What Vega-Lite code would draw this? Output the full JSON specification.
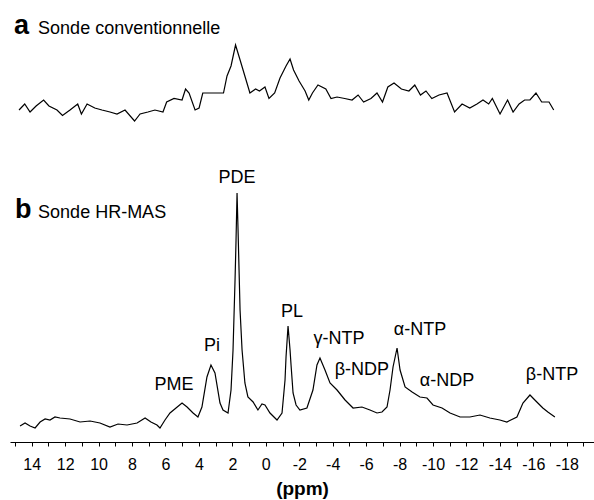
{
  "$schema": "https://vega.github.io/schema/vega-lite/v6.json",
  "width": 584,
  "height": 442,
  "autosize": {"type": "none"},
  "padding": {"left": 10, "top": 0, "right": 0, "bottom": 58},
  "config": {"view": {"stroke": null}, "font": "Liberation Sans"},
  "datasets": {
    "spectra": [
      {"spectrum":"a","ppm":14.76,"intensity":33.2},{"spectrum":"a","ppm":14.42,"intensity":33.8},{"spectrum":"a","ppm":14.10,"intensity":33.0},{"spectrum":"a","ppm":13.74,"intensity":33.6},{"spectrum":"a","ppm":13.29,"intensity":34.2},{"spectrum":"a","ppm":12.97,"intensity":33.6},{"spectrum":"a","ppm":12.49,"intensity":33.2},{"spectrum":"a","ppm":12.16,"intensity":32.65},{"spectrum":"a","ppm":11.71,"intensity":33.2},{"spectrum":"a","ppm":11.25,"intensity":33.8},{"spectrum":"a","ppm":11.03,"intensity":32.8},{"spectrum":"a","ppm":10.69,"intensity":33.8},{"spectrum":"a","ppm":10.23,"intensity":33.4},{"spectrum":"a","ppm":9.80,"intensity":33.2},{"spectrum":"a","ppm":9.32,"intensity":33.0},{"spectrum":"a","ppm":8.90,"intensity":32.8},{"spectrum":"a","ppm":8.42,"intensity":33.2},{"spectrum":"a","ppm":7.85,"intensity":32.1},{"spectrum":"a","ppm":7.52,"intensity":32.8},{"spectrum":"a","ppm":7.05,"intensity":33.0},{"spectrum":"a","ppm":6.63,"intensity":33.2},{"spectrum":"a","ppm":6.15,"intensity":33.0},{"spectrum":"a","ppm":5.93,"intensity":34.0},{"spectrum":"a","ppm":5.49,"intensity":34.35},{"spectrum":"a","ppm":5.01,"intensity":34.2},{"spectrum":"a","ppm":4.80,"intensity":35.3},{"spectrum":"a","ppm":4.59,"intensity":34.9},{"spectrum":"a","ppm":4.23,"intensity":33.2},{"spectrum":"a","ppm":3.99,"intensity":33.4},{"spectrum":"a","ppm":3.77,"intensity":34.9},{"spectrum":"a","ppm":3.34,"intensity":34.9},{"spectrum":"a","ppm":2.86,"intensity":34.9},{"spectrum":"a","ppm":2.53,"intensity":34.9},{"spectrum":"a","ppm":2.32,"intensity":36.6},{"spectrum":"a","ppm":2.08,"intensity":37.6},{"spectrum":"a","ppm":1.81,"intensity":39.7},{"spectrum":"a","ppm":1.52,"intensity":38.1},{"spectrum":"a","ppm":1.19,"intensity":36.25},{"spectrum":"a","ppm":0.95,"intensity":34.9},{"spectrum":"a","ppm":0.61,"intensity":35.3},{"spectrum":"a","ppm":0.38,"intensity":35.1},{"spectrum":"a","ppm":0.05,"intensity":35.5},{"spectrum":"a","ppm":-0.19,"intensity":34.35},{"spectrum":"a","ppm":-0.53,"intensity":34.9},{"spectrum":"a","ppm":-0.85,"intensity":36.4},{"spectrum":"a","ppm":-1.21,"intensity":37.6},{"spectrum":"a","ppm":-1.45,"intensity":38.3},{"spectrum":"a","ppm":-1.66,"intensity":37.2},{"spectrum":"a","ppm":-1.99,"intensity":36.1},{"spectrum":"a","ppm":-2.35,"intensity":35.1},{"spectrum":"a","ppm":-2.57,"intensity":34.2},{"spectrum":"a","ppm":-2.79,"intensity":34.9},{"spectrum":"a","ppm":-3.12,"intensity":35.7},{"spectrum":"a","ppm":-3.59,"intensity":35.3},{"spectrum":"a","ppm":-3.90,"intensity":34.35},{"spectrum":"a","ppm":-4.26,"intensity":34.5},{"spectrum":"a","ppm":-4.72,"intensity":34.35},{"spectrum":"a","ppm":-5.16,"intensity":34.2},{"spectrum":"a","ppm":-5.52,"intensity":34.7},{"spectrum":"a","ppm":-5.85,"intensity":34.0},{"spectrum":"a","ppm":-6.29,"intensity":34.35},{"spectrum":"a","ppm":-6.65,"intensity":34.9},{"spectrum":"a","ppm":-6.98,"intensity":34.0},{"spectrum":"a","ppm":-7.30,"intensity":35.5},{"spectrum":"a","ppm":-7.67,"intensity":35.9},{"spectrum":"a","ppm":-8.11,"intensity":35.3},{"spectrum":"a","ppm":-8.56,"intensity":35.1},{"spectrum":"a","ppm":-8.91,"intensity":35.7},{"spectrum":"a","ppm":-9.25,"intensity":34.7},{"spectrum":"a","ppm":-9.58,"intensity":35.1},{"spectrum":"a","ppm":-9.93,"intensity":34.35},{"spectrum":"a","ppm":-10.36,"intensity":34.7},{"spectrum":"a","ppm":-10.84,"intensity":34.9},{"spectrum":"a","ppm":-11.29,"intensity":33.0},{"spectrum":"a","ppm":-11.74,"intensity":33.8},{"spectrum":"a","ppm":-12.20,"intensity":33.4},{"spectrum":"a","ppm":-12.63,"intensity":33.8},{"spectrum":"a","ppm":-12.99,"intensity":34.2},{"spectrum":"a","ppm":-13.33,"intensity":33.8},{"spectrum":"a","ppm":-13.55,"intensity":34.35},{"spectrum":"a","ppm":-14.01,"intensity":32.8},{"spectrum":"a","ppm":-14.46,"intensity":34.2},{"spectrum":"a","ppm":-14.79,"intensity":33.0},{"spectrum":"a","ppm":-15.15,"intensity":33.8},{"spectrum":"a","ppm":-15.48,"intensity":34.2},{"spectrum":"a","ppm":-15.80,"intensity":34.2},{"spectrum":"a","ppm":-16.16,"intensity":34.9},{"spectrum":"a","ppm":-16.50,"intensity":34.0},{"spectrum":"a","ppm":-16.94,"intensity":34.0},{"spectrum":"a","ppm":-17.22,"intensity":33.2},
      {"spectrum":"b","ppm":14.70,"intensity":1.6},{"spectrum":"b","ppm":14.40,"intensity":1.9},{"spectrum":"b","ppm":14.10,"intensity":1.6},{"spectrum":"b","ppm":13.80,"intensity":1.4},{"spectrum":"b","ppm":13.50,"intensity":2.0},{"spectrum":"b","ppm":13.20,"intensity":2.3},{"spectrum":"b","ppm":12.91,"intensity":2.2},{"spectrum":"b","ppm":12.61,"intensity":2.5},{"spectrum":"b","ppm":12.31,"intensity":2.4},{"spectrum":"b","ppm":11.71,"intensity":2.3},{"spectrum":"b","ppm":11.11,"intensity":2.0},{"spectrum":"b","ppm":10.51,"intensity":2.1},{"spectrum":"b","ppm":9.92,"intensity":1.9},{"spectrum":"b","ppm":9.32,"intensity":1.5},{"spectrum":"b","ppm":8.84,"intensity":1.8},{"spectrum":"b","ppm":8.30,"intensity":1.7},{"spectrum":"b","ppm":7.70,"intensity":1.9},{"spectrum":"b","ppm":7.22,"intensity":2.4},{"spectrum":"b","ppm":6.87,"intensity":2.0},{"spectrum":"b","ppm":6.51,"intensity":1.7},{"spectrum":"b","ppm":6.33,"intensity":1.4},{"spectrum":"b","ppm":6.03,"intensity":2.2},{"spectrum":"b","ppm":5.73,"intensity":2.9},{"spectrum":"b","ppm":5.37,"intensity":3.4},{"spectrum":"b","ppm":5.01,"intensity":3.9},{"spectrum":"b","ppm":4.71,"intensity":3.5},{"spectrum":"b","ppm":4.35,"intensity":2.9},{"spectrum":"b","ppm":4.06,"intensity":2.5},{"spectrum":"b","ppm":3.82,"intensity":3.5},{"spectrum":"b","ppm":3.52,"intensity":6.5},{"spectrum":"b","ppm":3.28,"intensity":7.7},{"spectrum":"b","ppm":3.04,"intensity":6.9},{"spectrum":"b","ppm":2.74,"intensity":3.9},{"spectrum":"b","ppm":2.56,"intensity":3.2},{"spectrum":"b","ppm":2.26,"intensity":2.9},{"spectrum":"b","ppm":2.08,"intensity":5.2},{"spectrum":"b","ppm":1.96,"intensity":9.2},{"spectrum":"b","ppm":1.84,"intensity":16.2},{"spectrum":"b","ppm":1.78,"intensity":20.2},{"spectrum":"b","ppm":1.72,"intensity":24.9},{"spectrum":"b","ppm":1.66,"intensity":21.2},{"spectrum":"b","ppm":1.60,"intensity":17.2},{"spectrum":"b","ppm":1.54,"intensity":13.2},{"spectrum":"b","ppm":1.42,"intensity":9.2},{"spectrum":"b","ppm":1.25,"intensity":5.9},{"spectrum":"b","ppm":1.07,"intensity":4.5},{"spectrum":"b","ppm":0.76,"intensity":4.0},{"spectrum":"b","ppm":0.47,"intensity":3.2},{"spectrum":"b","ppm":0.23,"intensity":3.8},{"spectrum":"b","ppm":0.05,"intensity":3.7},{"spectrum":"b","ppm":-0.25,"intensity":2.9},{"spectrum":"b","ppm":-0.67,"intensity":2.2},{"spectrum":"b","ppm":-0.97,"intensity":2.9},{"spectrum":"b","ppm":-1.15,"intensity":6.2},{"spectrum":"b","ppm":-1.21,"intensity":8.5},{"spectrum":"b","ppm":-1.33,"intensity":11.6},{"spectrum":"b","ppm":-1.45,"intensity":9.2},{"spectrum":"b","ppm":-1.51,"intensity":7.7},{"spectrum":"b","ppm":-1.63,"intensity":4.9},{"spectrum":"b","ppm":-1.81,"intensity":3.7},{"spectrum":"b","ppm":-2.04,"intensity":3.2},{"spectrum":"b","ppm":-2.46,"intensity":3.4},{"spectrum":"b","ppm":-2.82,"intensity":5.2},{"spectrum":"b","ppm":-3.06,"intensity":7.7},{"spectrum":"b","ppm":-3.24,"intensity":8.4},{"spectrum":"b","ppm":-3.54,"intensity":7.2},{"spectrum":"b","ppm":-3.84,"intensity":5.9},{"spectrum":"b","ppm":-4.26,"intensity":5.2},{"spectrum":"b","ppm":-4.74,"intensity":4.2},{"spectrum":"b","ppm":-5.22,"intensity":3.4},{"spectrum":"b","ppm":-5.75,"intensity":3.5},{"spectrum":"b","ppm":-6.23,"intensity":3.2},{"spectrum":"b","ppm":-6.65,"intensity":2.9},{"spectrum":"b","ppm":-6.95,"intensity":3.0},{"spectrum":"b","ppm":-7.25,"intensity":3.5},{"spectrum":"b","ppm":-7.43,"intensity":5.2},{"spectrum":"b","ppm":-7.61,"intensity":7.5},{"spectrum":"b","ppm":-7.85,"intensity":9.4},{"spectrum":"b","ppm":-8.03,"intensity":7.2},{"spectrum":"b","ppm":-8.33,"intensity":5.5},{"spectrum":"b","ppm":-8.75,"intensity":5.0},{"spectrum":"b","ppm":-9.22,"intensity":4.5},{"spectrum":"b","ppm":-9.64,"intensity":4.4},{"spectrum":"b","ppm":-10.00,"intensity":3.7},{"spectrum":"b","ppm":-10.54,"intensity":3.4},{"spectrum":"b","ppm":-11.02,"intensity":2.9},{"spectrum":"b","ppm":-11.62,"intensity":2.5},{"spectrum":"b","ppm":-12.21,"intensity":2.5},{"spectrum":"b","ppm":-12.81,"intensity":2.7},{"spectrum":"b","ppm":-13.40,"intensity":2.4},{"spectrum":"b","ppm":-14.00,"intensity":2.2},{"spectrum":"b","ppm":-14.42,"intensity":2.0},{"spectrum":"b","ppm":-15.02,"intensity":2.5},{"spectrum":"b","ppm":-15.38,"intensity":3.9},{"spectrum":"b","ppm":-15.80,"intensity":4.7},{"spectrum":"b","ppm":-16.21,"intensity":4.0},{"spectrum":"b","ppm":-16.57,"intensity":3.4},{"spectrum":"b","ppm":-16.87,"intensity":3.0},{"spectrum":"b","ppm":-17.29,"intensity":2.5}
    ],
    "peaks": [
      {"label":"PDE","ppm":1.72,"intensity":26.4},
      {"label":"Pi","ppm":3.22,"intensity":9.6},
      {"label":"PME","ppm":5.49,"intensity":5.7},
      {"label":"PL","ppm":-1.57,"intensity":13.0},
      {"label":"γ-NTP","ppm":-4.38,"intensity":10.3},
      {"label":"β-NDP","ppm":-5.75,"intensity":7.2},
      {"label":"α-NTP","ppm":-9.22,"intensity":11.2},
      {"label":"α-NDP","ppm":-10.84,"intensity":6.1},
      {"label":"β-NTP","ppm":-17.12,"intensity":6.7}
    ],
    "letters": [
      {"text":"a","ppm":15.06,"intensity":40.8},
      {"text":"b","ppm":15.0,"intensity":22.4}
    ],
    "titles": [
      {"text":"Sonde conventionnelle","ppm":13.62,"intensity":40.8},
      {"text":"Sonde HR-MAS","ppm":13.62,"intensity":22.4}
    ]
  },
  "encoding": {
    "x": {
      "field": "ppm", "type": "quantitative",
      "scale": {"domain": [-19.63, 15.3], "reverse": true, "nice": false, "zero": false},
      "axis": {
        "values": [-19,-18,-17,-16,-15,-14,-13,-12,-11,-10,-9,-8,-7,-6,-5,-4,-3,-2,-1,0,1,2,3,4,5,6,7,8,9,10,11,12,13,14,15],
        "labelExpr": "(datum.value % 2 == 0 && datum.value >= -18 && datum.value <= 14) ? (datum.value < 0 ? '-' + (-datum.value) : '' + datum.value) : ''",
        "grid": false, "domainColor": "black", "domainWidth": 1,
        "tickColor": "black", "tickSize": 4, "tickWidth": 1,
        "labelFontSize": 16, "labelColor": "black", "labelPadding": 10,
        "labelFont": "Liberation Sans", "labelOverlap": false, "labelFlush": false, "labelBound": false,
        "title": "(ppm)", "titleFontSize": 19, "titleFontWeight": "bold", "titleColor": "black",
        "titlePadding": 7, "titleFont": "Liberation Sans"
      }
    },
    "y": {"field": "intensity", "type": "quantitative", "scale": {"domain": [0, 44.2], "nice": false, "zero": false}, "axis": null}
  },
  "layer": [
    {
      "data": {"name": "spectra"},
      "mark": {"type": "line", "color": "black", "strokeWidth": 1.2},
      "encoding": {"detail": {"field": "spectrum", "type": "nominal"}}
    },
    {
      "data": {"name": "peaks"},
      "mark": {"type": "text", "fontSize": 18, "color": "black", "align": "center", "baseline": "middle", "font": "Liberation Sans"},
      "encoding": {"text": {"field": "label"}}
    },
    {
      "data": {"name": "letters"},
      "mark": {"type": "text", "fontSize": 27, "fontWeight": "bold", "color": "black", "align": "left", "baseline": "alphabetic", "font": "Liberation Sans"},
      "encoding": {"text": {"field": "text"}}
    },
    {
      "data": {"name": "titles"},
      "mark": {"type": "text", "fontSize": 18, "color": "black", "align": "left", "baseline": "alphabetic", "font": "Liberation Sans"},
      "encoding": {"text": {"field": "text"}}
    }
  ]
}
